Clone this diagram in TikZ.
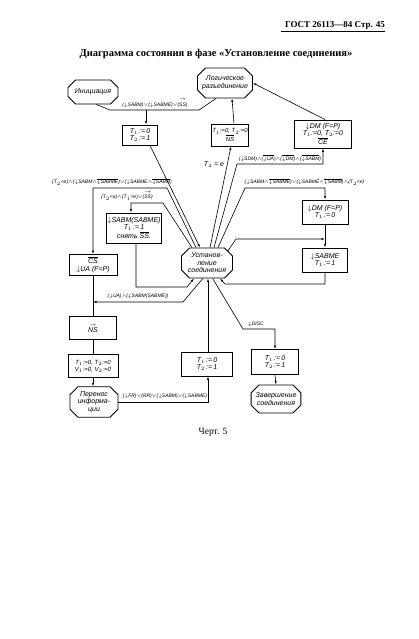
\documentclass[tikz,border=0pt]{standalone}
\usepackage{fontspec}
\setmainfont{Liberation Serif}
\newfontfamily\gostfont{Liberation Sans}
\usetikzlibrary{shapes.misc,arrows.meta}

\newcommand{\rcv}{$\downarrow$}
\newcommand{\ovl}[1]{$\overline{\mbox{#1}}$}
\newcommand{\arr}[1]{$\stackrel{\rightarrow}{\mbox{#1}}$}
\newcommand{\conj}{$\wedge$}
\newcommand{\disj}{$\vee$}
\newcommand{\boxfont}{\gostfont\itshape\fontsize{7}{7.6}\selectfont}
\newcommand{\tightfont}{\gostfont\itshape\fontsize{6}{7}\selectfont}
\newcommand{\condfont}{\gostfont\itshape\fontsize{5}{6}\selectfont}

\tikzset{
  state/.style={draw, line width=0.9pt, chamfered rectangle,
    chamfered rectangle xsep=4pt, chamfered rectangle ysep=4pt,
    inner sep=0.5pt, align=center, font=\boxfont},
  act/.style={draw, line width=0.9pt, rectangle, inner sep=0.5pt,
    align=center, font=\boxfont},
  flow/.style={line width=0.6pt, -{Latex[length=3.5pt,width=2.2pt]}},
  link/.style={line width=0.6pt},
  cond/.style={font=\condfont, inner sep=0.5pt}
}

\begin{document}
\begin{tikzpicture}[x=1pt,y=-1pt]
\useasboundingbox (0,0) rectangle (419,639);

% page head and title
\node[font=\bfseries\fontsize{9}{10}\selectfont, inner sep=0pt] (head) at (335,25) {ГОСТ 26113—84 Стр. 45};
\draw[line width=1.1pt] ([xshift=-4pt,yshift=-2.5pt]head.south west) -- ([yshift=-2.5pt]head.south east);
\node[font=\bfseries\fontsize{10.5}{12}\selectfont, inner sep=0pt] (title) at (216,54)
  {Диаграмма состояния в фазе «Установление соединения»};

% states
\node[state, minimum width=50pt, minimum height=24pt] (init) at (93,92) {Инициация};
\node[state, minimum width=52pt, minimum height=30pt] (disc) at (225,83) {Логическое\\разъединение};
\node[state, minimum width=51pt, minimum height=30pt] (estab) at (207,263) {Установ-\\ление\\соединения};
\node[state, minimum width=48pt, minimum height=25pt] (xfer) at (94,402) {Перенос\\информа-\\ции};
\node[state, minimum width=47pt, minimum height=28pt] (term) at (276,399) {Завершение\\соединения};

% actions
\node[act, minimum width=35pt, minimum height=20pt] (a1) at (140,135) {T$_1$\,:=\,0\\T$_2$\,:=\,1};
\node[act, minimum width=35pt, minimum height=22pt, font=\tightfont] (a2) at (230,135) {T$_1$:=0, T$_2$:=0\\\ovl{NS}};
\node[act, minimum width=57pt, minimum height=28pt] (a3) at (323,134) {\rcv DM (F=P)\\T$_1$:=0, T$_2$:=0\\\ovl{CE}};
\node[act, minimum width=54pt, minimum height=30pt] (a4) at (134,228) {\rcv SABM(SABME)\\T$_1$\,:=\,1\\снять \ovl{SS}.};
\node[act, minimum width=48pt, minimum height=21pt] (a5) at (93,265) {\ovl{CS}\\\rcv UA (F=P)};
\node[act, minimum width=46pt, minimum height=24pt] (a6) at (325,212) {\rcv DM (F=P)\\T$_1$\,:=\,0};
\node[act, minimum width=45pt, minimum height=24pt] (a7) at (325,260) {\rcv SABME\\T$_1$\,:=\,1};
\node[act, minimum width=47pt, minimum height=23pt] (a8) at (93,328) {\arr{NS}};
\node[act, minimum width=50pt, minimum height=23pt, font=\tightfont] (a9) at (93,366) {T$_1$:=0, T$_2$:=0\\V$_1$:=0, V$_2$:=0};
\node[act, minimum width=51pt, minimum height=24pt] (a10) at (207,364) {T$_1$\,:=\,0\\T$_2$\,:=\,1};
\node[act, minimum width=47pt, minimum height=25pt] (a11) at (275,362) {T$_1$\,:=\,0\\T$_2$\,:=\,1};

% from initiation or disconnection
\coordinate (jA) at (146,110);
\draw[link] (init.-75) -- (110,110) -- (jA) -- (199,110) -- (disc.-120);
\draw[flow] (jA) -- (a1.north -| jA);
\node[cond, anchor=south] (c1) at (155,108) {(\rcv SABM)\disj(\rcv SABME)\disj(\arr{SS})};
\draw[flow] ([xshift=10pt]a1.south) -- ([xshift=-7pt]estab.north);

% upwards to disconnection
\draw[flow] ([xshift=3pt]estab.north) -- ([xshift=1pt]a2.south);
\node[cond, font=\boxfont] (c3) at (214,165) {T$_2$ = e};
\draw[flow] ([xshift=4pt]a2.north) -- ([xshift=7pt]disc.south);
\coordinate (k5a) at (237,164);
\coordinate (k5b) at (323,164);
\draw[flow] ([xshift=7pt]estab.north) -- (k5a) -- (k5b) -- (a3.south);
\node[cond, anchor=south] (c5) at (280,162) {(\rcv SDM)\conj(\ovl{\rcv UA})\conj(\ovl{\rcv DM})\conj(\ovl{\rcv SABM})};
\draw[flow] ([xshift=2pt]a3.north) -- (disc.east);

% right branch
\coordinate (k7a) at (245,188);
\coordinate (k7b) at (325,188);
\draw[flow] ([xshift=11pt]estab.north) -- (k7a) -- (k7b) -- (a6.north);
\node[cond, anchor=south west] (c7) at (244,186) {(\rcv SABM\conj\ovl{\rcv SABME})\disj(\rcv SABME\conj\ovl{\rcv SABM})\conj(T$_2$<e)};
\coordinate (k8) at (325,239);
\draw[flow] (estab.30) -- (236,239) -- (k8);
\draw[flow] (a6.south) -- (a7.north);
\coordinate (k9a) at (325,284);
\coordinate (k9b) at (225,284);
\draw[flow] (a7.south) -- (k9a) -- (k9b) -- (estab.-50);

% left branches
\coordinate (k10a) at (163,203);
\coordinate (k10b) at (131,203);
\draw[flow] ([xshift=-15pt]estab.north) -- (k10a) -- (k10b) -- (k10b |- a4.north);
\node[cond, anchor=south] (c10) at (127,201) {(T$_2$<e)\conj(T$_1$=e)\disj(\arr{SS})};
\coordinate (k11a) at (167,188);
\coordinate (k11b) at (93,188);
\draw[flow] ([xshift=-11pt]estab.north) -- (k11a) -- (k11b) -- (a5.north);
\node[cond, anchor=south] (c11) at (112,186) {(T$_2$<e)\conj(\rcv SABM\conj\ovl{\rcv SABME})\disj(\rcv SABME\conj\ovl{\rcv SABM})};
\coordinate (k12a) at (136,287);
\coordinate (k12b) at (187,287);
\draw[flow] ([xshift=2pt]a4.south) -- (k12a) -- (k12b) -- (estab.-130);
\coordinate (k13a) at (183,302);
\coordinate (k13b) at (93,302);
\draw[flow] (estab.-105) -- (k13a) -- (k13b);
\node[cond, anchor=south] (c13) at (138,299) {(\rcv UA)\conj(\rcv SABM(SABME))};

% towards information transfer
\draw[link] (a5.south) -- (a8.north);
\draw[link] (a8.south) -- (a9.north);
\draw[flow] (a9.south) -- (a9.south |- xfer.north);
\coordinate (k15) at (208,402);
\draw[flow] (xfer.east) -- (k15) -- (k15 |- a10.south);
\node[cond, anchor=south] (c15) at (165,399) {(\rcv FR)\disj(RR)\disj(\rcv SABM)\disj(\rcv SABME)};
\draw[flow] ([xshift=1pt]a10.north) -- ([xshift=1pt]estab.south);

% disconnect
\coordinate (k17a) at (243,329);
\coordinate (k17b) at (275,329);
\draw[flow] (estab.-70) -- (k17a) -- (k17b) -- (a11.north);
\node[cond, anchor=south] (c17) at (256,327) {\rcv DISC};
\draw[flow] (a11.south) -- (term.north);

\node[font=\fontsize{9.5}{10}\selectfont, inner sep=0pt] (caption) at (213,432) {Черт. 5};
\end{tikzpicture}
\end{document}
